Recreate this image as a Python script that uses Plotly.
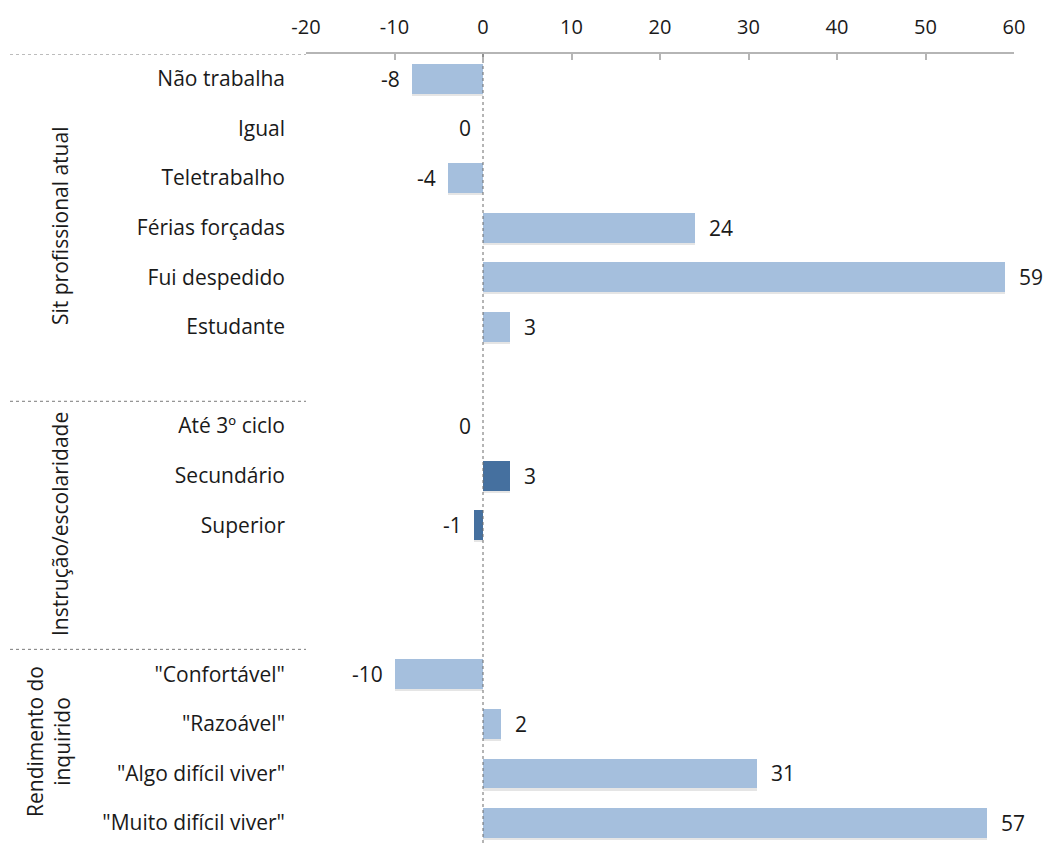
import plotly.graph_objects as go

# ---- data ----
groups = ["Sit profissional atual", "Instrução/escolaridade", "Rendimento do<br>inquirido"]
cat_sit = ["Não trabalha", "Igual", "Teletrabalho", "Férias forçadas", "Fui despedido", "Estudante"]
val_sit = [-8, 0, -4, 24, 59, 3]
cat_edu = ["Até 3º ciclo", "Secundário", "Superior"]
val_edu = [0, 3, -1]
cat_inc = ['"Confortável"', '"Razoável"', '"Algo difícil viver"', '"Muito difícil viver"']
val_inc = [-10, 2, 31, 57]
x_ticks = [-20, -10, 0, 10, 20, 30, 40, 50, 60]

LIGHT = "#A5BFDD"
DARK = "#45709F"
FONT = "Open Sans"
FS = 21
TXT = "#1a1a1a"

# slot layout: groups separated by empty slots
gaps_after = [1, 2, 0]
cats, vals, pos, colors, group_start = [], [], [], [], []
slot = 0
for gi, (c, v, col) in enumerate([(cat_sit, val_sit, LIGHT), (cat_edu, val_edu, DARK), (cat_inc, val_inc, LIGHT)]):
    group_start.append(slot)
    for ci, vi in zip(c, v):
        cats.append(ci); vals.append(vi); pos.append(slot); colors.append(col)
        slot += 1
    slot += gaps_after[gi]

fig = go.Figure()
# subtle shadow
fig.add_trace(go.Bar(
    x=vals, y=[p + 0.045 for p in pos], orientation="h", width=0.6,
    marker=dict(color="rgba(0,0,0,0.10)", line=dict(width=0)),
    hoverinfo="skip", showlegend=False,
))
fig.add_trace(go.Bar(
    x=vals, y=pos, orientation="h", width=0.6,
    marker=dict(color=colors, line=dict(width=0)),
    showlegend=False,
))

annotations = []
for v, p in zip(vals, pos):
    if v <= 0:
        annotations.append(dict(x=v, y=p, xref="x", yref="y", text=str(v), showarrow=False,
                                xanchor="right", xshift=-10, font=dict(family=FONT, size=FS, color=TXT)))
    else:
        annotations.append(dict(x=v, y=p, xref="x", yref="y", text=str(v), showarrow=False,
                                xanchor="left", xshift=12, font=dict(family=FONT, size=FS, color=TXT)))

plot_left, plot_right = 306, 1014
pw = plot_right - plot_left
H, top, bottom = 843, 54, 0
ymax_range = (H - 79) / 49.6
ph = H - top - bottom

def ypaper(py):
    return (H - bottom - py) / ph

group_label_x = [60, 60, 48]
group_label_y = [226, 524, 742]
for g, gx, gy in zip(groups, group_label_x, group_label_y):
    annotations.append(dict(x=(gx - plot_left) / pw, y=ypaper(gy), xref="paper", yref="paper",
                            text=g, showarrow=False, textangle=-90, xanchor="center", yanchor="middle",
                            font=dict(family=FONT, size=FS, color=TXT)))

shapes = []
for gs in group_start:
    shapes.append(dict(type="line", xref="paper", yref="y", x0=(10 - plot_left) / pw, x1=0,
                       y0=gs - 0.5, y1=gs - 0.5, line=dict(color="#7a7a7a", width=1, dash="dot")))
shapes.append(dict(type="line", xref="x", yref="paper", x0=0, x1=0, y0=0, y1=1,
                   line=dict(color="#6a6a6a", width=1, dash="dot")))

fig.update_layout(
    width=1045, height=H,
    margin=dict(l=plot_left, r=1045 - plot_right, t=top, b=bottom),
    paper_bgcolor="white", plot_bgcolor="white",
    bargap=0, barmode="overlay",
    annotations=annotations, shapes=shapes,
    xaxis=dict(side="top", range=[-20, 60], tickvals=x_ticks, ticktext=[str(t) for t in x_ticks],
               showgrid=False, zeroline=False, showline=True, linecolor="#b5b5b5", linewidth=1.5,
               ticks="inside", ticklen=6, tickcolor="#b5b5b5", tickwidth=1.5, ticklabelstandoff=10,
               tickfont=dict(family=FONT, size=20, color=TXT)),
    yaxis=dict(range=[ymax_range, -0.5], tickvals=pos, ticktext=cats, showgrid=False, zeroline=False,
               showline=False, ticks="", ticklabelstandoff=20,
               tickfont=dict(family=FONT, size=FS, color=TXT)),
    font=dict(family=FONT),
)

fig.write_html("out.html")
